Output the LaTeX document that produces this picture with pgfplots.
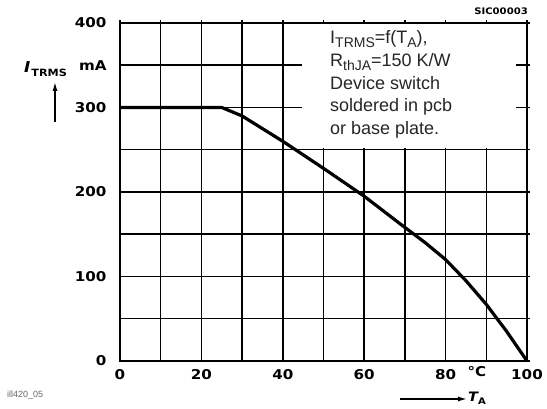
\documentclass[border=0pt]{standalone}
\usepackage{fontspec}
\setmainfont{Liberation Sans}
\newfontfamily\tickfont[FakeStretch=1.12]{DejaVu Sans}
\usepackage{pgfplots}
\pgfplotsset{compat=1.18}
\usetikzlibrary{arrows.meta}

% curve (T_A in degC, I_TRMS in mA)
\pgfplotstableread{
T     I
0     300
25    300
30    290
40    260
50    228
60    195
70    158
75    140
80    120
85    95
90    67
95    35
100   0
}\derating

\newcommand{\sub}[1]{\raisebox{-4pt}{\fontsize{14}{14}\selectfont #1}}

\begin{document}
\begin{tikzpicture}
% 1pt = 1px of the reference, axis origin at pixel (120,361)
\useasboundingbox (-120pt,-48pt) rectangle (427pt,361pt);
\begin{axis}[
  width=407pt, height=338pt, scale only axis,
  xmin=0, xmax=100, ymin=0, ymax=400,
  xtick={0,10,...,100},
  xticklabels={0,,20,,40,,60,,80,,100},
  ytick={0,50,...,400},
  yticklabels={0,,100,,200,,300,mA,400},
  xtick pos=right, ytick pos=right,
  xticklabel pos=left, yticklabel pos=left,
  tick align=outside, major tick length=3pt,
  tick style={black, line width=1.5pt},
  grid=major, grid style={black, line width=1.5pt},
  axis line style={black, line width=2pt},
  /pgf/number format/assume math mode=true,
  ticklabel style={font=\tickfont\bfseries\fontsize{13.5}{13.5}\selectfont},
  xticklabel style={yshift=-1.5pt},
  yticklabel style={xshift=-7pt},
]
\fill[white] (axis cs:44.6,252) rectangle (axis cs:97.3,398.9);
\addplot[black, line width=3.2pt, line join=round] table[x=T, y=I] {\derating};
\end{axis}

% text box
\begin{scope}[every node/.style={anchor=base west, inner sep=0pt,
    font=\fontsize{18}{18}\selectfont, text=black!85}]
  \node at (210pt,317pt) {I\sub{TRMS}=f(T\sub{A}),};
  \node at (210pt,294.3pt) {R\sub{thJA}=150 K/W};
  \node at (210pt,271.7pt) {Device switch};
  \node at (210pt,249.3pt) {soldered in pcb};
  \node at (210pt,226pt) {or base plate.};
\end{scope}

% unit at the x axis
\node[anchor=base, inner sep=0pt, font=\tickfont\bfseries\fontsize{13.5}{13.5}\selectfont]
  at (357pt,-16pt) {°C};

% y axis label with arrow
\node[anchor=base west, inner sep=0pt] at (-96pt,288pt)
  {\tickfont\bfseries\itshape\fontsize{15}{15}\selectfont I\hspace{1pt}\raisebox{-4pt}{\upshape\fontsize{10}{10}\selectfont TRMS}};
\draw[-{Latex[length=9pt,width=5pt]}, line width=1.4pt] (-65pt,239pt) -- (-65pt,279pt);

% x axis label with arrow
\draw[-{Latex[length=9pt,width=5pt]}, line width=1.4pt] (280pt,-38pt) -- (347pt,-38pt);
\node[anchor=base west, inner sep=0pt] at (348pt,-41pt)
  {\tickfont\bfseries\itshape\fontsize{13}{13}\selectfont T\raisebox{-3pt}{\upshape\fontsize{9}{9}\selectfont A}};

% figure codes
\node[anchor=base east, inner sep=0pt, font=\tickfont\bfseries\fontsize{9}{9}\selectfont]
  at (408pt,346pt) {SIC00003};
\node[anchor=base west, inner sep=0pt, font=\fontsize{9}{9}\selectfont, text=black!60]
  at (-113pt,-37pt) {ill420\_05};
\end{tikzpicture}
\end{document}
